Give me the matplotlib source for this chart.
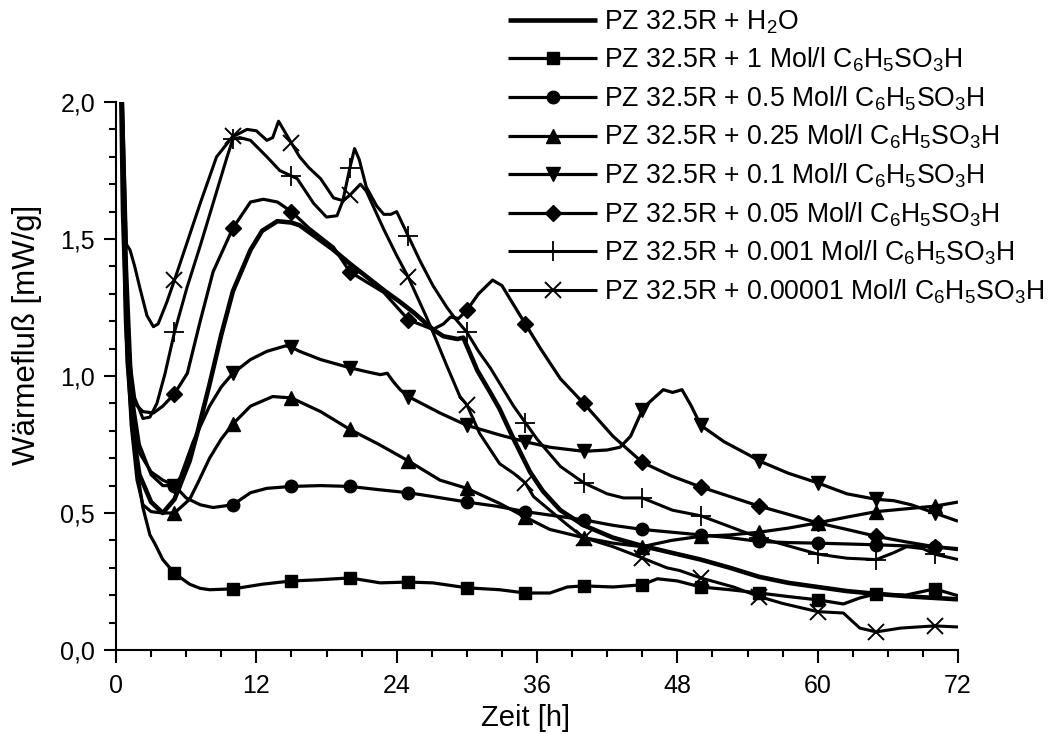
import numpy as np
import matplotlib
matplotlib.use("Agg")
import matplotlib.pyplot as plt
from matplotlib.ticker import MultipleLocator, FuncFormatter

plt.rcParams['font.family'] = ['Liberation Sans', 'DejaVu Sans']
plt.rcParams['mathtext.fontset'] = 'custom'
plt.rcParams['mathtext.rm'] = 'Liberation Sans'
plt.rcParams['mathtext.it'] = 'Liberation Sans'
plt.rcParams['mathtext.default'] = 'regular'

# ---- heat flow curves: time [h] and heat flow [mW/g] ----
t_h2o = [0.35, 0.6, 1.0, 1.5, 2, 3, 4, 5, 6.3, 7, 8, 9, 10, 11.5, 12.5, 13.8, 15, 15.7, 17, 18.6,
         20, 21.5, 23, 24.3, 25.5, 27.1, 28, 29.2, 29.7, 30, 30.9, 32, 32.8, 34, 35.4, 36.5, 38,
         40, 42.5, 45, 47.5, 50, 52.5, 55, 57.5, 60, 62.5, 65, 68, 72]
q_h2o = [2.3, 1.6, 1.05, 0.78, 0.64, 0.54, 0.50, 0.55, 0.69, 0.80, 0.97, 1.15, 1.31, 1.46, 1.53,
         1.565, 1.56, 1.55, 1.51, 1.46, 1.41, 1.36, 1.31, 1.27, 1.23, 1.17, 1.145, 1.135, 1.14,
         1.11, 1.02, 0.94, 0.88, 0.77, 0.65, 0.58, 0.51, 0.455, 0.41, 0.38, 0.355, 0.33, 0.30,
         0.267, 0.245, 0.23, 0.215, 0.205, 0.195, 0.185]

t_1 = [0.4, 0.9, 1.2, 1.45, 1.8, 2.3, 2.9, 3.3, 4, 5, 6.3, 7.2, 8, 10, 12.5, 15, 17.2, 20, 22.6,
       25, 27.1, 30, 32.8, 35, 37.1, 38.6, 40, 42.5, 45, 46.3, 48, 50, 52.5, 55, 57.5, 60, 62.2,
       63.6, 65, 67.5, 70, 72]
q_1 = [2.3, 1.4, 1.10, 0.85, 0.66, 0.52, 0.42, 0.39, 0.33, 0.28, 0.24, 0.225, 0.22, 0.223, 0.24,
       0.252, 0.256, 0.263, 0.245, 0.248, 0.245, 0.227, 0.22, 0.208, 0.208, 0.23, 0.234, 0.23,
       0.238, 0.26, 0.252, 0.23, 0.22, 0.208, 0.195, 0.183, 0.168, 0.19, 0.205, 0.20, 0.223, 0.198]

t_05 = [0.4, 0.8, 1.3, 2, 3, 4, 5, 6, 7.2, 8.3, 10, 11.5, 12.9, 15, 17.5, 20, 22.5, 25, 27.1, 30,
        32.5, 35, 37.5, 40, 42.5, 45, 47.5, 50, 52.5, 55, 57.5, 60, 62.5, 65, 67.5, 70, 72]
q_05 = [2.3, 1.3, 0.9, 0.72, 0.65, 0.62, 0.60, 0.555, 0.53, 0.52, 0.53, 0.574, 0.59, 0.597, 0.60,
        0.597, 0.585, 0.574, 0.56, 0.54, 0.525, 0.505, 0.49, 0.475, 0.455, 0.44, 0.43, 0.42, 0.41,
        0.396, 0.392, 0.39, 0.387, 0.384, 0.38, 0.377, 0.37]

t_025 = [0.4, 0.8, 1.3, 1.8, 2.3, 3, 4, 5, 6.3, 7, 8, 9, 10, 11.5, 13.4, 15, 17.5, 20, 22.5, 25,
         27.7, 30, 32.8, 35, 37.1, 40, 42.5, 45, 47.5, 50, 52.5, 55, 57.5, 60, 62.5, 65, 67.5, 70, 72]
q_025 = [2.3, 1.2, 0.82, 0.62, 0.53, 0.505, 0.50, 0.50, 0.55, 0.61, 0.70, 0.77, 0.825, 0.89, 0.925,
         0.92, 0.87, 0.805, 0.75, 0.69, 0.62, 0.59, 0.535, 0.485, 0.44, 0.41, 0.39, 0.377, 0.40,
         0.415, 0.42, 0.43, 0.445, 0.464, 0.485, 0.505, 0.515, 0.525, 0.54]

t_01 = [0.4, 0.8, 1.3, 2, 3, 4, 5, 5.5, 6.6, 8, 9, 10, 11.5, 12.9, 14.5, 15, 15.7, 17.5, 20, 21.5,
        22.6, 23.2, 23.7, 24.3, 25, 27.7, 30, 32.8, 35, 37.1, 40, 42, 43.1, 44, 45, 45.5, 46.8,
        47.6, 48.4, 49.2, 50, 52, 54.2, 55, 57.5, 60, 62.5, 65, 66.5, 68, 70, 72]
q_01 = [2.3, 1.3, 0.95, 0.75, 0.64, 0.60, 0.60, 0.63, 0.76, 0.89, 0.96, 1.01, 1.06, 1.09, 1.11,
        1.105, 1.09, 1.06, 1.03, 1.015, 1.005, 1.01, 0.98, 0.95, 0.925, 0.865, 0.82, 0.785, 0.76,
        0.74, 0.725, 0.73, 0.74, 0.78, 0.875, 0.90, 0.95, 0.94, 0.95, 0.89, 0.82, 0.76, 0.71, 0.69,
        0.645, 0.61, 0.57, 0.55, 0.545, 0.53, 0.50, 0.47]

t_005 = [0.4, 0.8, 1.2, 1.6, 2.3, 3.2, 4, 5, 6.1, 7.2, 8.3, 10, 11.5, 12.6, 13.8, 15, 16.5, 18.6,
         20, 22.9, 25, 27.1, 28, 28.6, 29.3, 30, 31, 32.2, 33, 34, 35, 36.3, 38, 40, 42.5, 45, 47.5,
         50, 52.5, 55, 57.5, 60, 62.5, 65, 67.5, 70, 72]
q_005 = [2.3, 1.3, 1.0, 0.90, 0.87, 0.865, 0.89, 0.935, 1.01, 1.20, 1.38, 1.54, 1.635, 1.645, 1.635,
         1.60, 1.54, 1.47, 1.38, 1.305, 1.205, 1.17, 1.19, 1.215, 1.21, 1.24, 1.30, 1.35, 1.33, 1.26,
         1.19, 1.10, 0.99, 0.90, 0.78, 0.685, 0.635, 0.595, 0.56, 0.525, 0.495, 0.464, 0.44, 0.415,
         0.395, 0.377, 0.366]

t_0001 = [0.4, 0.8, 1.2, 1.6, 2.3, 2.9, 3.5, 4.2, 5, 6.05, 7.2, 8.3, 9.5, 10, 10.6, 11.5, 12.9,
          14, 15, 15.5, 16.9, 18, 18.9, 19.4, 20, 20.4, 20.8, 21.4, 22.3, 22.9,
          23.5, 24.0, 25, 26, 27.1, 28.3, 29, 30, 31, 32, 33, 34, 35, 36, 37, 38, 40, 42, 43.4,
          45, 47.6, 50, 52.5, 55, 57.5, 60, 62.5, 65, 66.5, 67.6, 69, 70, 72]
q_0001 = [2.3, 1.4, 1.05, 0.92, 0.845, 0.85, 0.90, 1.01, 1.16, 1.32, 1.475, 1.63, 1.80, 1.865,
          1.87, 1.86, 1.80, 1.75, 1.73, 1.72, 1.63, 1.58, 1.585, 1.64, 1.76, 1.83,
          1.79, 1.69, 1.62, 1.59, 1.59, 1.60, 1.51, 1.42, 1.33, 1.25, 1.21, 1.16, 1.09, 1.03, 0.96,
          0.89, 0.83, 0.77, 0.72, 0.67, 0.61, 0.57, 0.555, 0.555, 0.51, 0.49, 0.45, 0.41, 0.38,
          0.35, 0.335, 0.33, 0.355, 0.377, 0.37, 0.35, 0.33]

t_00001 = [0.35, 0.9, 1.2, 1.6, 2.05, 2.65, 3.2, 3.6, 4.35, 5, 6.1, 7.2, 8.6, 10, 10.3, 11.2, 12.0,
           12.9, 13.4, 13.9, 15, 15.7, 16.5, 17.5, 18.6, 19.4, 20, 20.9, 21.4, 22.9, 24, 25, 26.6,
           27.1, 28.3, 29.4, 30, 31.1, 32.8, 34, 35, 35.7, 37.1, 38.5, 40, 42.5, 45, 47.1, 48.2,
           50, 52.8, 55, 57, 60, 62.2, 63.6, 65, 67.1, 70, 72]
q_00001 = [2.3, 1.48, 1.46, 1.40, 1.32, 1.22, 1.18, 1.19, 1.27, 1.35, 1.49, 1.63, 1.80, 1.875,
           1.88, 1.90, 1.895, 1.86, 1.87, 1.93, 1.85, 1.80, 1.76, 1.72, 1.65, 1.64, 1.66, 1.70,
           1.675, 1.535, 1.44, 1.36, 1.21, 1.16, 1.036, 0.926, 0.895, 0.79, 0.68, 0.645, 0.61,
           0.56, 0.51, 0.46, 0.41, 0.377, 0.336, 0.30, 0.29, 0.263, 0.23, 0.195, 0.17, 0.14,
           0.135, 0.08, 0.066, 0.08, 0.088, 0.084]

labels = [
    "PZ 32.5R + H$_2$O",
    "PZ 32.5R + 1 Mol/l C$_6$H$_5$SO$_3$H",
    "PZ 32.5R + 0.5 Mol/l C$_6$H$_5$SO$_3$H",
    "PZ 32.5R + 0.25 Mol/l C$_6$H$_5$SO$_3$H",
    "PZ 32.5R + 0.1 Mol/l C$_6$H$_5$SO$_3$H",
    "PZ 32.5R + 0.05 Mol/l C$_6$H$_5$SO$_3$H",
    "PZ 32.5R + 0.001 Mol/l C$_6$H$_5$SO$_3$H",
    "PZ 32.5R + 0.00001 Mol/l C$_6$H$_5$SO$_3$H",
]

series = [
    (t_h2o, q_h2o, dict(marker=None, lw=3.3)),
    (t_1, q_1, dict(marker='s', ms=8.5, lw=2.3)),
    (t_05, q_05, dict(marker='o', ms=9, lw=2.3)),
    (t_025, q_025, dict(marker='^', ms=10, lw=2.3)),
    (t_01, q_01, dict(marker='v', ms=10, lw=2.3)),
    (t_005, q_005, dict(marker='D', ms=8.5, lw=2.3)),
    (t_0001, q_0001, dict(marker='+', ms=15, mew=1.3, lw=2.2)),
    (t_00001, q_00001, dict(marker='x', ms=11, mew=1.4, lw=2.2)),
]

fig = plt.figure(figsize=(10.51, 7.34), dpi=100)
ax = fig.add_axes([116 / 1051, 84 / 734, 842 / 1051, 548 / 734])

for (t, q, style), lab in zip(series, labels):
    t = np.asarray(t, dtype=float)
    q = np.asarray(q, dtype=float)
    # symbols sit on every 5 h reading
    marks = np.where(np.isclose(np.mod(t, 5), 0) & (t >= 5) & (t <= 70))[0].tolist()
    kw = dict(color='black', solid_joinstyle='round', solid_capstyle='butt', label=lab)
    kw.update(style)
    if kw.get('marker') is not None:
        kw['markevery'] = marks
    ax.plot(t, q, **kw)

ax.set_xlim(0, 72)
ax.set_ylim(0, 2.0)
ax.xaxis.set_major_locator(MultipleLocator(12))
ax.xaxis.set_minor_locator(MultipleLocator(3))
ax.yaxis.set_major_locator(MultipleLocator(0.5))
ax.yaxis.set_minor_locator(MultipleLocator(0.1))
ax.yaxis.set_major_formatter(FuncFormatter(lambda v, p: f"{v:.1f}".replace('.', ',')))

for s in ['top', 'right']:
    ax.spines[s].set_visible(False)
for s in ['left', 'bottom']:
    ax.spines[s].set_linewidth(1.5)

ax.tick_params(which='major', direction='out', length=9, width=1.5, labelsize=18, pad=6)
ax.tick_params(which='minor', direction='out', length=5, width=1.5)
ax.tick_params(axis='x', which='major', pad=8)

ax.set_xlabel("Zeit [h]", fontsize=21)
ax.set_ylabel("Wärmefluß [mW/g]", fontsize=22.5)
ax.xaxis.set_label_coords(0.487, -0.098)
ax.yaxis.set_label_coords(-0.088, 0.575)

leg = ax.legend(loc='upper left', bbox_to_anchor=(508 / 1051, 1 - 8 / 734),
                bbox_transform=fig.transFigure, frameon=False, fontsize=19.2,
                handlelength=3.35, handletextpad=0.25, labelspacing=0.38,
                borderaxespad=0, borderpad=0)

fig.savefig("out.png", dpi=100, facecolor='white')
